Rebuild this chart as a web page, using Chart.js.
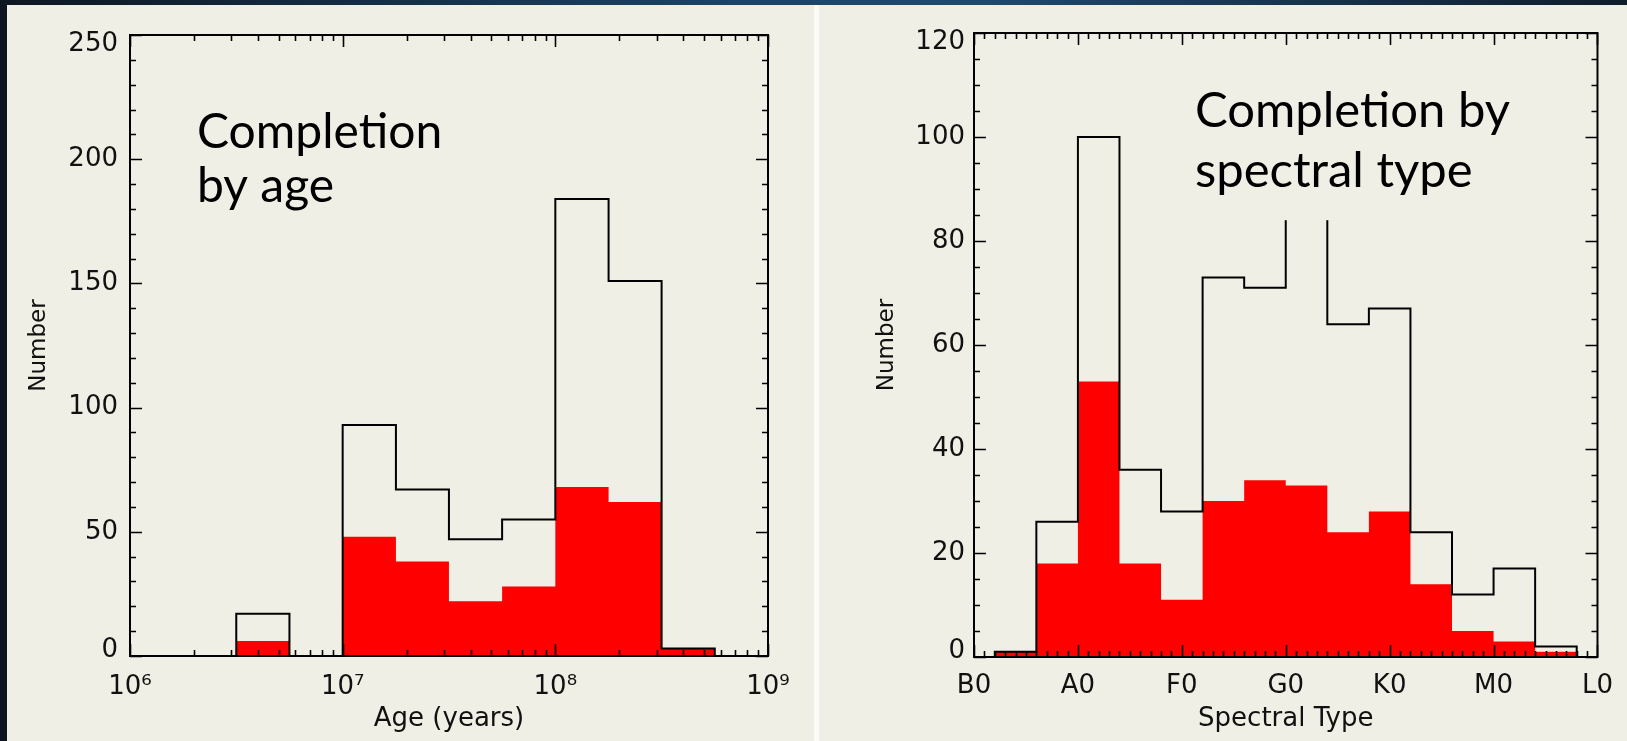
<!DOCTYPE html>
<html>
<head>
<meta charset="utf-8">
<script src="https://cdn.jsdelivr.net/npm/chart.js@4.4.0/dist/chart.umd.min.js"></script>
<style>
html,body{margin:0;padding:0;width:1627px;height:741px;overflow:hidden;background:#0e1520;}
#topband{position:absolute;left:0;top:0;width:1627px;height:5px;background:linear-gradient(90deg,#0d1722 0%,#1b4466 45%,#1f4a6e 60%,#0f1d2c 100%);}
.panel{position:absolute;top:5px;height:736px;background:#f0efe5;}
#p1{left:7px;width:807px;}
#p2{left:819px;width:808px;}
#divider{position:absolute;left:814px;top:5px;width:5px;height:736px;background:#fbfbf8;}
canvas{display:block;}
</style>
</head>
<body>
<div id="topband"></div>
<div class="panel" id="p1"><canvas id="ageChart" width="807" height="736"></canvas></div>
<div id="divider"></div>
<div class="panel" id="p2"><canvas id="specChart" width="808" height="736"></canvas></div>
<script>
// --- Data: completion by age (bins 0.25 dex wide) ---
const ageEdges = [3.16e6, 5.62e6, 1e7, 1.78e7, 3.16e7, 5.62e7, 1e8, 1.78e8, 3.16e8, 5.62e8];
const ageTotal = [17, 0, 93, 67, 47, 55, 184, 151, 3];
const ageDone  = [6, 0, 48, 38, 22, 28, 68, 62, 3];
const ageTicks = [1e6, 1e7, 1e8, 1e9];
const ageTickLabels = ['10⁶', '10⁷', '10⁸', '10⁹'];
const ageYTicks = [0, 50, 100, 150, 200, 250];

// --- Data: completion by spectral type (B0=0, A0=10, ... 4 subtypes per bin) ---
const specEdges = [2, 6, 10, 14, 18, 22, 26, 30, 34, 38, 42, 46, 50, 54, 58];
const specTotal = [1, 26, 100, 36, 28, 73, 71, 95, 64, 67, 24, 12, 17, 2];
const specDone  = [1, 18, 53, 18, 11, 30, 34, 33, 24, 28, 14, 5, 3, 1];
const specTicks = [0, 10, 20, 30, 40, 50, 60];
const specTickLabels = ['B0', 'A0', 'F0', 'G0', 'K0', 'M0', 'L0'];
const specYTicks = [0, 20, 40, 60, 80, 100, 120];

const FAMILY = "'DejaVu Sans', sans-serif";
const TICK_FONT = { family: FAMILY, size: 26 };
const INK = '#111';

// histogram outline as a list of corner points
function steps(edges, vals){
  const pts = [{ x: edges[0], y: 0 }];
  vals.forEach((v, i) => { pts.push({ x: edges[i], y: v }); pts.push({ x: edges[i + 1], y: v }); });
  pts.push({ x: edges[edges.length - 1], y: 0 });
  return pts;
}
function range(a, b, step){ const r = []; for(let v = a; v <= b + 1e-9; v += step) r.push(v); return r; }

// end labels of the y axis sit inside the frame, like the IDL plot
function yLabel(v, i, ticks){
  const s = String(v);
  if(i === 0) return [s, ''];
  if(i === ticks.length - 1) return ['', s];
  return s;
}
function yFont(c){
  const t = c.tick;
  let lh = 1.2;
  if(t && t.value === c.scale.options.min) lh = '12px';
  if(t && t.value === c.scale.options.max) lh = '18px';
  return { family: FAMILY, size: 26, lineHeight: lh };
}

// box frame with inward ticks on all four sides, plus the slide text
const framePlugin = {
  id: 'frame',
  afterDatasetsDraw(chart, args, o){
    const { ctx, chartArea: a, scales: { x, y } } = chart;
    ctx.save();
    if(o.mask){
      ctx.fillStyle = '#f0efe5';
      const m = o.mask;
      ctx.fillRect(m.left, m.top, m.right - m.left, y.getPixelForValue(m.downTo) - m.top);
    }
    ctx.strokeStyle = '#000';
    ctx.lineWidth = 1.6;
    ctx.beginPath();
    const xt = (vals, len) => vals.forEach(v => { const p = Math.round(x.getPixelForValue(v)) + 0.5;
      ctx.moveTo(p, a.bottom); ctx.lineTo(p, a.bottom - len); ctx.moveTo(p, a.top); ctx.lineTo(p, a.top + len); });
    const yt = (vals, len) => vals.forEach(v => { const p = Math.round(y.getPixelForValue(v)) + 0.5;
      ctx.moveTo(a.left, p); ctx.lineTo(a.left + len, p); ctx.moveTo(a.right, p); ctx.lineTo(a.right - len, p); });
    xt(o.xMinor, o.minorLen); xt(o.xMajor, o.majorLen);
    yt(o.yMinor, o.minorLen); yt(o.yMajor, o.majorLen);
    ctx.stroke();
    ctx.lineWidth = 2;
    ctx.strokeRect(a.left, a.top, a.right - a.left, a.bottom - a.top);
    ctx.fillStyle = '#000';
    ctx.font = o.note.font;
    ctx.textBaseline = 'alphabetic';
    o.note.lines.forEach((t, i) => ctx.fillText(t, o.note.x, o.note.y + i * o.note.gap));
    ctx.restore();
  }
};

function histDatasets(edges, total, done){
  return [
    { data: steps(edges, total), borderColor: '#000', borderWidth: 2, pointRadius: 0, fill: false, tension: 0, borderJoinStyle: 'miter' },
    { data: steps(edges, done), borderColor: 'rgba(0,0,0,0)', borderWidth: 0, backgroundColor: '#ff0000', pointRadius: 0, fill: 'origin', tension: 0 }
  ];
}

function axisTitle(text, size, padding){
  return { display: true, text: text, color: INK, font: { family: FAMILY, size: size }, padding: padding };
}

// --- Left: by age ---
const logMinor = [];
[1e6, 1e7, 1e8].forEach(d => { for(let k = 2; k <= 9; k++) logMinor.push(k * d); });

new Chart(document.getElementById('ageChart'), {
  type: 'line',
  data: { datasets: histDatasets(ageEdges, ageTotal, ageDone) },
  options: {
    responsive: false, animation: false, events: [],
    layout: { padding: { left: 0, right: 46, top: 27, bottom: 0 } },
    plugins: {
      legend: { display: false }, tooltip: { enabled: false },
      frame: {
        xMajor: ageTicks, xMinor: logMinor, yMajor: ageYTicks, yMinor: range(0, 250, 10),
        majorLen: 12, minorLen: 6,
        note: { x: 190, y: 143, gap: 54, font: "48px Lato, 'Open Sans', sans-serif", lines: ['Completion', 'by age'] }
      }
    },
    scales: {
      x: {
        type: 'logarithmic', min: 1e6, max: 1e9,
        afterBuildTicks: s => { s.ticks = ageTicks.map(v => ({ value: v })); },
        afterFit: s => { s.height = 85; },
        grid: { display: false, drawTicks: false }, border: { display: false },
        ticks: { autoSkip: false, maxRotation: 0, padding: 16, color: INK, font: TICK_FONT, callback: (v, i) => ageTickLabels[i] },
        title: axisTitle('Age (years)', 26, { top: 0, bottom: 6 })
      },
      y: {
        min: 0, max: 250,
        afterBuildTicks: s => { s.ticks = ageYTicks.map(v => ({ value: v })); },
        afterFit: s => { s.width = 123; },
        grid: { display: false, drawTicks: false }, border: { display: false },
        ticks: { padding: 12, color: INK, font: yFont, callback: yLabel },
        title: axisTitle('Number', 23, { top: 18, bottom: 0 })
      }
    }
  },
  plugins: [framePlugin]
});

// --- Right: by spectral type ---
new Chart(document.getElementById('specChart'), {
  type: 'line',
  data: { datasets: histDatasets(specEdges, specTotal, specDone) },
  options: {
    responsive: false, animation: false, events: [],
    layout: { padding: { left: 0, right: 20, top: 28, bottom: 0 } },
    plugins: {
      legend: { display: false }, tooltip: { enabled: false },
      frame: {
        xMajor: specTicks, xMinor: range(0, 60, 1), yMajor: specYTicks, yMinor: range(0, 120, 5),
        majorLen: 12, minorLen: 6,
        mask: { left: 368, right: 720, top: 70, downTo: 84 },
        note: { x: 376, y: 122, gap: 60, font: "49px Lato, 'Open Sans', sans-serif", lines: ['Completion by', 'spectral type'] }
      }
    },
    scales: {
      x: {
        type: 'linear', min: 0, max: 60,
        afterBuildTicks: s => { s.ticks = specTicks.map(v => ({ value: v })); },
        afterFit: s => { s.height = 84; },
        grid: { display: false, drawTicks: false }, border: { display: false },
        ticks: { autoSkip: false, maxRotation: 0, padding: 14, color: INK, font: TICK_FONT, callback: (v, i) => specTickLabels[i] },
        title: axisTitle('Spectral Type', 26, { top: 0, bottom: 6 })
      },
      y: {
        min: 0, max: 120,
        afterBuildTicks: s => { s.ticks = specYTicks.map(v => ({ value: v })); },
        afterFit: s => { s.width = 155; },
        grid: { display: false, drawTicks: false }, border: { display: false },
        ticks: { padding: 9, color: INK, font: yFont, callback: yLabel },
        title: axisTitle('Number', 23, { top: 54, bottom: 0 })
      }
    }
  },
  plugins: [framePlugin]
});
</script>
</body>
</html>
